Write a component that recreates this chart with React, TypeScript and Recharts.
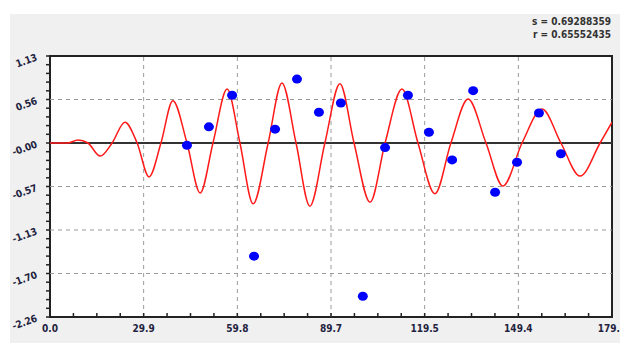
import { ComposedChart, Line, Scatter, XAxis, YAxis, ReferenceLine, ReferenceArea } from 'recharts';

// fitted curve at extrema and zero crossings
const curveX = [0, 5.7, 8.9, 12.1, 16.0, 19.8, 23.9, 27.8, 31.6, 35.4, 39.2, 43.7, 47.9, 52.0, 56.5, 60.6, 64.8, 69.6, 74.0, 78.5, 82.9, 87.7, 92.5, 97.0, 102.1, 106.9, 112.3, 117.4, 122.8, 127.9, 133.4, 139.1, 144.5, 150.6, 157.0, 163.0, 169.1, 175.5, 179.3];
const curveY = [0, 0, 0.04, 0, -0.17, 0, 0.27, 0, -0.44, 0, 0.55, 0, -0.65, 0, 0.70, 0, -0.79, 0, 0.78, 0, -0.82, 0, 0.77, 0, -0.77, 0, 0.70, 0, -0.66, 0, 0.57, 0, -0.56, 0, 0.44, 0, -0.43, 0, 0.27];

// measured points
const dotX = [43.7, 50.7, 58.1, 65.1, 71.8, 78.8, 85.8, 92.8, 99.8, 106.9, 114.2, 120.9, 128.3, 135.0, 142.0, 149.0, 156.0, 163.0];
const dotY = [-0.03, 0.21, 0.62, -1.47, 0.18, 0.83, 0.40, 0.52, -1.99, -0.06, 0.62, 0.14, -0.22, 0.68, -0.64, -0.25, 0.39, -0.14];

const xTickValues = [0, 29.88, 59.77, 89.65, 119.53, 149.42, 179.3];
const xTickLabels = ['0.0', '29.9', '59.8', '89.7', '119.5', '149.4', '179.3'];
const yTickValues = [1.13, 0.565, 0, -0.565, -1.13, -1.695, -2.26];
const yTickLabels = ['1.13', '0.56', '-0.00', '-0.57', '-1.13', '-1.70', '-2.26'];

const statLines = ['s = 0.69288359', 'r = 0.65552435'];

const curveData = curveX.map((x, i) => ({ x, y: curveY[i] }));
const dotData = dotX.map((x, i) => ({ x, y: dotY[i] }));

// minor ticks: 3 between x majors, 4 between y majors
const subdivide = (vals: number[], n: number) => {
  const out: number[] = [];
  for (let i = 0; i < vals.length - 1; i++) {
    for (let k = 0; k < n; k++) out.push(vals[i] + ((vals[i + 1] - vals[i]) * k) / n);
  }
  out.push(vals[vals.length - 1]);
  return out;
};
const xTicks = subdivide(xTickValues, 4);
const yTicks = subdivide(yTickValues, 5);

const labelFor = (vals: number[], labels: string[], v: number) => {
  const i = vals.findIndex((m) => Math.abs(m - v) < 1e-6);
  return i >= 0 ? labels[i] : null;
};

const FONT = '"DejaVu Sans Condensed", "DejaVu Sans", sans-serif';
const LABEL_COLOR = '#23233f';

const XTick = ({ x, y, payload }: any) => {
  const label = labelFor(xTickValues, xTickLabels, payload.value);
  return (
    <g>
      <line x1={x} y1={y} x2={x} y2={y - 4} stroke="#222" strokeWidth={1.5} />
      {label && (
        <text x={x} y={y + 15} textAnchor="middle" fontSize={10} fontWeight="bold" fill={LABEL_COLOR} fontFamily={FONT}>
          {label}
        </text>
      )}
    </g>
  );
};

const YTick = ({ x, y, payload }: any) => {
  const label = labelFor(yTickValues, yTickLabels, payload.value);
  const tx = x - 12;
  const ty = y + 4;
  return (
    <g>
      <line x1={x} y1={y} x2={x - 4} y2={y} stroke="#222" strokeWidth={1.5} />
      {label && (
        <text x={tx} y={ty} textAnchor="end" fontSize={10} fontWeight="bold" fill={LABEL_COLOR} fontFamily={FONT} transform={`rotate(-20 ${tx} ${ty})`}>
          {label}
        </text>
      )}
    </g>
  );
};

const Dot = ({ cx, cy }: any) => <ellipse cx={cx} cy={cy} rx={5} ry={4.5} fill="#0000ff" />;

export default function App() {
  return (
    <div style={{ position: 'absolute', left: 0, top: 0, width: 620, height: 343, background: '#fff', overflow: 'hidden' }}>
      <div style={{ position: 'absolute', left: 10, top: 14, right: 0, bottom: 0, background: '#f0f0f0' }} />
      {statLines.map((s, i) => (
        <div
          key={s}
          style={{
            position: 'absolute',
            right: 9,
            top: 16 + i * 13,
            fontFamily: FONT,
            fontSize: 10,
            fontWeight: 'bold',
            color: '#333',
            whiteSpace: 'pre',
          }}
        >
          {s}
        </div>
      ))}
      <div style={{ position: 'absolute', left: 0, top: 0 }}>
        <ComposedChart width={620} height={343} margin={{ top: 56, right: 8, bottom: 0, left: 10 }}>
          <ReferenceArea x1={0} x2={179.3} y1={-2.26} y2={1.13} fill="#fff" fillOpacity={1} stroke="none" />
          <XAxis
            dataKey="x"
            type="number"
            domain={[0, 179.3]}
            ticks={xTicks}
            interval={0}
            allowDataOverflow
            height={26}
            axisLine={false}
            tickLine={false}
            tickSize={0}
            tickMargin={0}
            tick={<XTick />}
          />
          <YAxis
            type="number"
            domain={[-2.26, 1.13]}
            ticks={yTicks}
            interval={0}
            allowDataOverflow
            width={40}
            axisLine={false}
            tickLine={false}
            tickSize={0}
            tickMargin={0}
            tick={<YTick />}
          />
          {yTickValues.slice(1, -1).map((v) =>
            v === 0 ? null : <ReferenceLine key={`h${v}`} y={v} stroke="#9a9a9a" strokeDasharray="4 4" />
          )}
          {xTickValues.slice(1, -1).map((v) => (
            <ReferenceLine key={`v${v}`} x={v} stroke="#9a9a9a" strokeDasharray="4 4" />
          ))}
          <ReferenceLine y={0} stroke="#333" strokeWidth={2} />
          <Line
            data={curveData}
            dataKey="y"
            type="monotone"
            stroke="#ff1a1a"
            strokeWidth={1.5}
            dot={false}
            activeDot={false}
            isAnimationActive={false}
          />
          <Scatter data={dotData} dataKey="y" shape={<Dot />} isAnimationActive={false} />
          <ReferenceArea x1={0} x2={179.3} y1={-2.26} y2={1.13} fill="none" stroke="#222" strokeWidth={2} ifOverflow="visible" />
        </ComposedChart>
      </div>
    </div>
  );
}
